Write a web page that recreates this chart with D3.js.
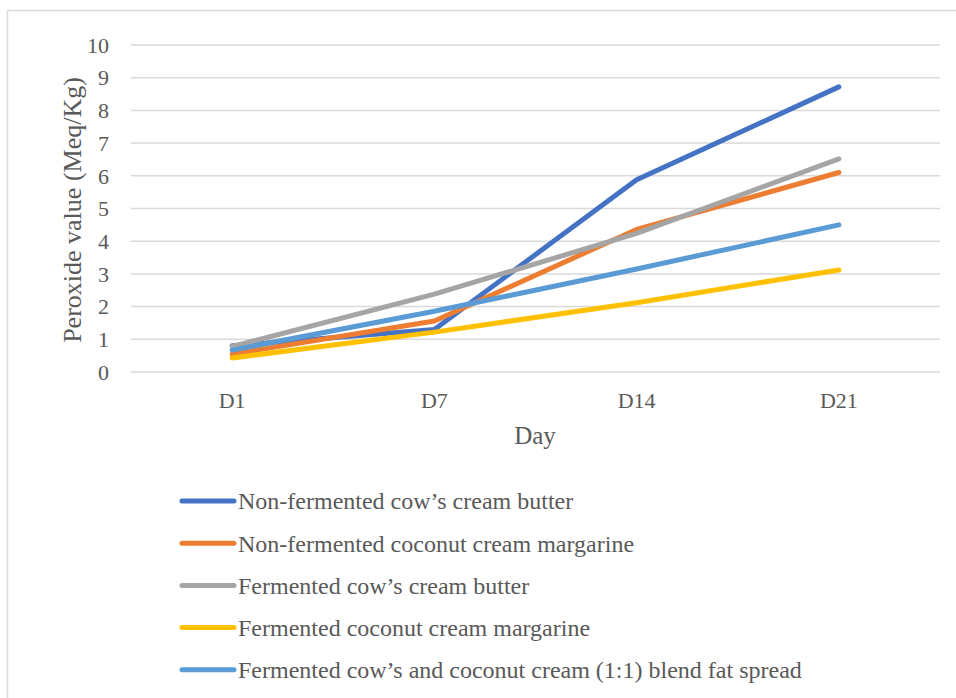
<!DOCTYPE html>
<html>
<head>
<meta charset="utf-8">
<script src="https://cdn.jsdelivr.net/npm/d3@7"></script>
<style>
  html, body { margin: 0; padding: 0; background: #fff; }
  svg { display: block; }
  text { font-family: "Liberation Serif", "Times New Roman", serif; fill: #595959; }
</style>
</head>
<body>
<svg id="chart" width="956" height="698"></svg>
<script>
// Storage day of each measurement
const days = ["D1", "D7", "D14", "D21"];

// Peroxide value (Meq/Kg) per product
const nonFermentedButter = [0.8, 1.3, 5.88, 8.72];
const nonFermentedMargarine = [0.55, 1.56, 4.36, 6.1];
const fermentedButter = [0.78, 2.38, 4.24, 6.52];
const fermentedMargarine = [0.43, 1.22, 2.12, 3.12];
const fermentedBlend = [0.67, 1.86, 3.15, 4.5];

const seriesNames = [
  "Non-fermented cow\u2019s cream butter",
  "Non-fermented coconut cream margarine",
  "Fermented cow\u2019s cream butter",
  "Fermented coconut cream margarine",
  "Fermented cow\u2019s and coconut cream (1:1) blend fat spread"
];
const seriesValues = [nonFermentedButter, nonFermentedMargarine, fermentedButter, fermentedMargarine, fermentedBlend];
const seriesColors = ["#4472c4", "#ed7d31", "#a5a5a5", "#ffc000", "#5b9bd5"];

const yTicks = [0, 1, 2, 3, 4, 5, 6, 7, 8, 9, 10];

const svg = d3.select("#chart");

// Chart area frame
svg.append("rect")
  .attr("x", 7.5).attr("y", 10.5)
  .attr("width", 960).attr("height", 700)
  .attr("fill", "none")
  .attr("stroke", "#d9d9d9")
  .attr("stroke-width", 1.5);

const plot = { left: 131, right: 940, top: 45, bottom: 372 };

const x = d3.scaleBand().domain(days).range([plot.left, plot.right]);
const y = d3.scaleLinear().domain([0, 10]).range([plot.bottom, plot.top]);

// Horizontal gridlines
svg.append("g")
  .selectAll("line")
  .data(yTicks)
  .join("line")
  .attr("x1", plot.left).attr("x2", plot.right)
  .attr("y1", d => y(d)).attr("y2", d => y(d))
  .attr("stroke", "#d9d9d9")
  .attr("stroke-width", 1.5);

// Y tick labels
svg.append("g")
  .selectAll("text")
  .data(yTicks)
  .join("text")
  .attr("x", 109)
  .attr("y", d => y(d))
  .attr("dy", "0.35em")
  .attr("text-anchor", "end")
  .attr("font-size", 22)
  .text(d => d);

// X tick labels
svg.append("g")
  .selectAll("text")
  .data(days)
  .join("text")
  .attr("x", d => x(d) + x.bandwidth() / 2)
  .attr("y", 408)
  .attr("text-anchor", "middle")
  .attr("font-size", 22)
  .text(d => d);

// Axis titles
svg.append("text")
  .attr("x", 535).attr("y", 444)
  .attr("text-anchor", "middle")
  .attr("font-size", 25)
  .text("Day");

svg.append("text")
  .attr("transform", "translate(72,210) rotate(-90)")
  .attr("text-anchor", "middle")
  .attr("dy", "0.35em")
  .attr("font-size", 26)
  .text("Peroxide value (Meq/Kg)");

// Series lines
const line = d3.line()
  .x((d, i) => x(days[i]) + x.bandwidth() / 2)
  .y(d => y(d));

svg.append("g")
  .selectAll("path")
  .data(seriesValues)
  .join("path")
  .attr("d", d => line(d))
  .attr("fill", "none")
  .attr("stroke", (d, i) => seriesColors[i])
  .attr("stroke-width", 5)
  .attr("stroke-linecap", "round")
  .attr("stroke-linejoin", "round");

// Legend
const legend = svg.append("g")
  .selectAll("g")
  .data(seriesNames)
  .join("g")
  .attr("transform", (d, i) => `translate(0, ${501 + i * 42.2})`);

legend.append("line")
  .attr("x1", 182).attr("x2", 234)
  .attr("y1", 0).attr("y2", 0)
  .attr("stroke", (d, i) => seriesColors[i])
  .attr("stroke-width", 5)
  .attr("stroke-linecap", "round");

legend.append("text")
  .attr("x", 238)
  .attr("y", 0)
  .attr("dy", "0.35em")
  .attr("font-size", 24)
  .text(d => d);
</script>
</body>
</html>
